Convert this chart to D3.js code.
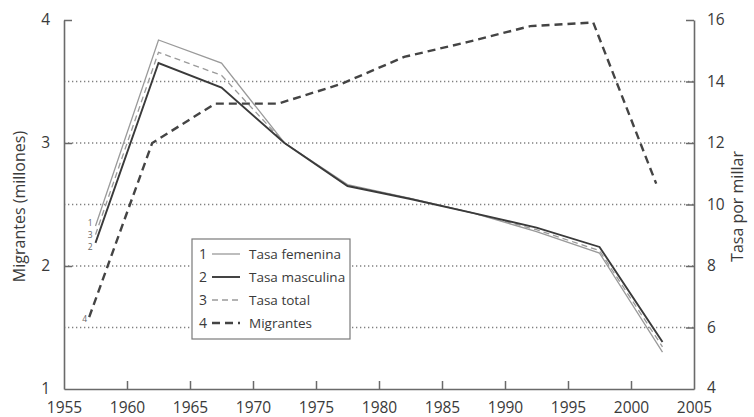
<!DOCTYPE html>
<html><head><meta charset="utf-8">
<script src="https://cdn.jsdelivr.net/npm/d3@7/dist/d3.min.js"></script>
<style>body{margin:0;background:#fff}svg text{font-family:"Open Sans","Noto Sans",sans-serif}</style>
</head><body><svg id="c" width="754" height="417"></svg>
<script>
const rateYears = [1957.5,1962.5,1967.5,1972.5,1977.5,1982.5,1987.5,1992.5,1997.5,2002.5];
const tasaFemenina = [9.3,15.35,14.6,12.0,10.65,10.2,9.72,9.12,8.42,5.2];
const tasaMasculina = [8.75,14.6,13.8,12.0,10.6,10.18,9.72,9.25,8.62,5.53];
const tasaTotal = [9.02,14.95,14.2,12.0,10.62,10.19,9.72,9.18,8.5,5.37];
const migYears = [1957,1962,1967,1972,1977,1982,1987,1992,1997,2002];
const migrantes = [1.585,3.0,3.32,3.32,3.48,3.70,3.82,3.95,3.98,2.67];
const xTicks = [1955,1960,1965,1970,1975,1980,1985,1990,1995,2000,2005];
const leftTicks = [1,2,3,4];
const rightTicks = [4,6,8,10,12,14,16];
const gridVals = [1.5,2,2.5,3,3.5];
const legendItems = [
  {n:"1", label:"Tasa femenina"},
  {n:"2", label:"Tasa masculina"},
  {n:"3", label:"Tasa total"},
  {n:"4", label:"Migrantes"}
];

const svg = d3.select("#c");
const L = 64, R = 694, T = 20, B = 389;
const x = d3.scaleLinear().domain([1955,2005]).range([L,R]);
const yL = d3.scaleLinear().domain([1,4]).range([B,T]);
const yR = d3.scaleLinear().domain([4,16]).range([B,T]);
const axisCol = "#6a6a6a", txtCol = "#3a3a3a";

// grid
svg.append("g").selectAll("line").data(gridVals).join("line")
  .attr("x1",L).attr("x2",R).attr("y1",d=>yL(d)).attr("y2",d=>yL(d))
  .attr("stroke","#808080").attr("stroke-width",1.4).attr("stroke-dasharray","1.3,2.7");

// axes
const ax = svg.append("g").attr("transform",`translate(0,${B})`)
  .call(d3.axisBottom(x).tickValues(xTicks).tickFormat(d3.format("d")).tickSizeInner(-8).tickSizeOuter(0).tickPadding(13));
const ayl = svg.append("g").attr("transform",`translate(${L},0)`)
  .call(d3.axisLeft(yL).tickValues(leftTicks).tickFormat(d3.format("d")).tickSizeInner(-8).tickSizeOuter(0).tickPadding(14));
const ayr = svg.append("g").attr("transform",`translate(${R},0)`)
  .call(d3.axisRight(yR).tickValues(rightTicks).tickFormat(d3.format("d")).tickSizeInner(-8).tickSizeOuter(0).tickPadding(13));
[ax,ayl,ayr].forEach(g=>{
  g.select(".domain").attr("stroke",axisCol).attr("stroke-width",1.6);
  g.selectAll(".tick line").attr("stroke",axisCol).attr("stroke-width",1.5);
  g.selectAll(".tick text").attr("fill",txtCol).style("font-size","15.5px");
});
ax.selectAll(".tick").filter(d=>d===1955||d===2005).select("line").remove();
ayr.selectAll(".tick").filter(d=>d===4).select("line").remove();
ayl.selectAll(".tick").filter(d=>d===1).select("line").remove();
ax.selectAll(".tick text").attr("dy","0.71em");
ayr.selectAll(".tick").filter(d=>d===4).select("text").attr("dy","0.2em");

// axis titles
svg.append("text").attr("transform",`translate(25,${(T+B)/2+2}) rotate(-90)`)
  .attr("text-anchor","middle").attr("fill",txtCol).style("font-size","16px").text("Migrantes (millones)");
svg.append("text").attr("transform",`translate(743,${(T+B)/2+2}) rotate(-90)`)
  .attr("text-anchor","middle").attr("fill",txtCol).style("font-size","16px").text("Tasa por millar");

// lines
const rateLine = vals => d3.line().x((d,i)=>x(rateYears[i])).y(d=>yR(d))(vals);
svg.append("path").attr("d",rateLine(tasaFemenina)).attr("fill","none").attr("stroke","#9a9a9a").attr("stroke-width",1.3);
svg.append("path").attr("d",rateLine(tasaTotal)).attr("fill","none").attr("stroke","#9a9a9a").attr("stroke-width",1.3).attr("stroke-dasharray","6,4");
svg.append("path").attr("d",rateLine(tasaMasculina)).attr("fill","none").attr("stroke","#3a3a3a").attr("stroke-width",1.9);
const migLine = d3.line().x((d,i)=>x(migYears[i])).y(d=>yL(d));
svg.append("path").attr("d",migLine(migrantes)).attr("fill","none").attr("stroke","#444").attr("stroke-width",2.4).attr("stroke-dasharray","8,5");

// line numbers near starts
const numStyle = s => s.attr("fill","#666").style("font-size","8.5px").attr("text-anchor","end");
const x0 = x(rateYears[0]) - 3, yMid = yR(tasaTotal[0]);
svg.append("text").attr("x",x0).attr("y",yMid-9).call(numStyle).text("1");
svg.append("text").attr("x",x0).attr("y",yMid+3).call(numStyle).text("3");
svg.append("text").attr("x",x0).attr("y",yMid+15).call(numStyle).text("2");
svg.append("text").attr("x",x(migYears[0])-2).attr("y",yL(migrantes[0])+5).call(numStyle).text("4");

// legend
const lg = svg.append("g").attr("transform","translate(192,239)");
lg.append("rect").attr("width",158).attr("height",100).attr("fill","#fff").attr("stroke","#7a7a7a").attr("stroke-width",1.2);
const styles = [
  {c:"#9a9a9a",w:1.3,d:null},
  {c:"#3a3a3a",w:1.9,d:null},
  {c:"#9a9a9a",w:1.3,d:"6,4"},
  {c:"#444",w:2.4,d:"8,5"}
];
const rows = lg.selectAll("g.row").data(legendItems).join("g").attr("class","row")
  .attr("transform",(d,i)=>`translate(0,${15+i*23})`);
rows.append("text").attr("x",7).attr("y",5).attr("fill",txtCol).style("font-size","14px").text(d=>d.n);
rows.append("line").attr("x1",20).attr("x2",48).attr("y1",0).attr("y2",0)
  .attr("stroke",(d,i)=>styles[i].c).attr("stroke-width",(d,i)=>styles[i].w)
  .attr("stroke-dasharray",(d,i)=>styles[i].d);
rows.append("text").attr("x",57).attr("y",5).attr("fill",txtCol).style("font-size","13.5px").text(d=>d.label);
</script></body></html>
